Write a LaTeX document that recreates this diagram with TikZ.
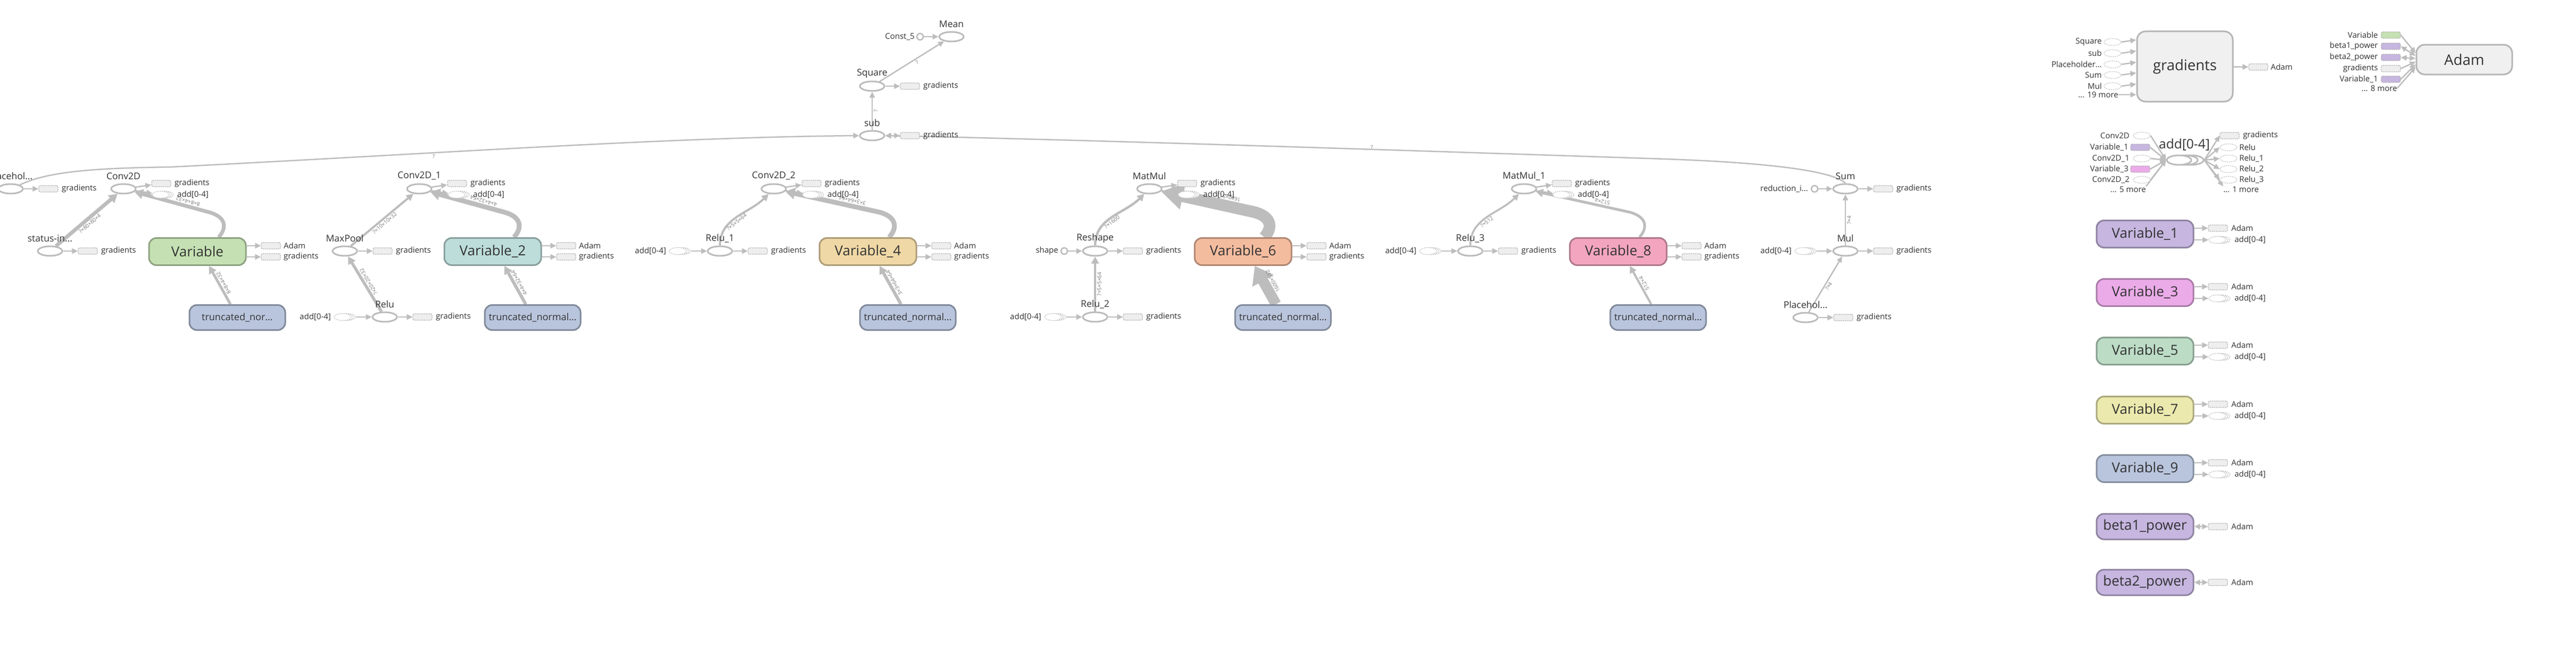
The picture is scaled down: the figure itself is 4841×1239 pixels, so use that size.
\documentclass[tikz,border=0pt]{standalone}
\usepackage{fontspec}
\setmainfont{Open Sans}
\usetikzlibrary{shapes.geometric,arrows.meta,calc}
\pgfdeclarelayer{bg}
\pgfsetlayers{bg,main}
\definecolor{edgec}{HTML}{BDBDBD}
\definecolor{opc}{HTML}{BBBBBB}
\definecolor{gbf}{HTML}{EEEEEE}
\definecolor{gbd}{HTML}{AAAAAA}
\definecolor{serc}{HTML}{C4C4C4}
\definecolor{txt}{HTML}{333333}
\definecolor{elc}{HTML}{7A7A7A}
\definecolor{bigf}{HTML}{F0F0F0}
\definecolor{bigd}{HTML}{B5B5B5}
\definecolor{vaf}{HTML}{C5E1B3}
\definecolor{vbf}{HTML}{BDDDDA}
\definecolor{vcf}{HTML}{F0D8A6}
\definecolor{vdf}{HTML}{F4BC9F}
\definecolor{vef}{HTML}{F3A5BF}
\definecolor{trf}{HTML}{B9C5DD}
\definecolor{vpf}{HTML}{C6B6E0}
\definecolor{vgf}{HTML}{EAABE8}
\definecolor{vhf}{HTML}{BCDCC6}
\definecolor{vif}{HTML}{EBE9AD}
\newcommand\fSm{\fontsize{15}{15}\selectfont}
\newcommand\fOp{\fontsize{17.5}{17.5}\selectfont}
\newcommand\fVar{\fontsize{26}{26}\selectfont}
\newcommand\fTr{\fontsize{18}{18}\selectfont}
\newcommand\fBig{\fontsize{27.5}{27.5}\selectfont}
\newcommand\fSer{\fontsize{24.5}{24.5}\selectfont}
\newcommand\fEd{\fontsize{10}{10}\selectfont}
\tikzset{
 op/.style={ellipse, draw=opc, line width=3pt, fill=white, minimum width=46pt, minimum height=18pt, inner sep=0pt},
 cst/.style={circle, draw=opc, line width=2.5pt, fill=white, minimum size=12pt, inner sep=0pt},
 gb/.style={rectangle, rounded corners=3pt, draw=gbd, fill=gbf, line width=1.3pt, dash pattern=on 2pt off 1.5pt, minimum width=36pt, minimum height=12pt, inner sep=0pt},
 ser/.style={ellipse, draw=serc, line width=1.3pt, dash pattern=on 2pt off 1.5pt, fill=white, minimum width=32pt, minimum height=13pt, inner sep=0pt},
 lab/.style={font=\fSm, text=txt, inner sep=0pt},
 oplab/.style={font=\fOp, text=txt, inner sep=0pt},
 varbox/.style={rectangle, rounded corners=14pt, line width=3pt, minimum width=182pt, minimum height=51pt, font=\fVar, text=txt, inner sep=0pt},
 tbox/.style={varbox, fill=trf, draw=trf!70!black, minimum width=180pt, minimum height=47pt, font=\fTr},
 bigbox/.style={rectangle, rounded corners=16pt, draw=bigd, fill=bigf, line width=3pt, minimum width=180pt, font=\fBig, text=txt, inner sep=0pt},
 ed/.style={draw=edgec, line width=2.5pt, -{Triangle[length=11pt,width=10pt]}},
 edb/.style={draw=edgec, line width=2.5pt, {Triangle[length=11pt,width=10pt]}-{Triangle[length=11pt,width=10pt]}},
 elab/.style={font=\fEd, text=elc, inner sep=2pt},
}
\newcommand\opnode[4]{%
 \node[op] (#1) at (#2,#3) {};
 \node[oplab] (#1-l) at (#2,#3-24) {#4};}
\newcommand\gout[1]{%
 \node[gb] (#1-g) at ($(#1)+(71,0)$) {};
 \node[lab,anchor=west] (#1-gt) at ($(#1)+(96,0)$) {gradients};}
\newcommand\sernode[4]{%
 \node[ser] (#1-b2) at ($(#2)+(#3+8,#4)$) {};
 \node[ser] (#1-b1) at ($(#2)+(#3+4,#4)$) {};
 \node[ser] (#1) at ($(#2)+(#3,#4)$) {};}
\newcommand\topout[1]{%
 \node[gb] (#1-g) at ($(#1)+(71,-10)$) {};
 \node[lab,anchor=west] (#1-gt) at ($(#1)+(96,-10)$) {gradients};
 \sernode{#1-a}{#1}{70}{11}
 \node[lab,anchor=west] (#1-at) at ($(#1)+(101,11)$) {add[0-4]};}
\newcommand\addin[1]{%
 \sernode{#1-a}{#1}{-79}{0}
 \node[lab,anchor=east] (#1-at) at ($(#1)+(-101,0)$) {add[0-4]};}
\newcommand\varout[1]{%
 \node[gb] (#1-ad) at ($(#1)+(138,-11)$) {};
 \node[lab,anchor=west] (#1-adt) at ($(#1)+(162,-11)$) {Adam};
 \node[gb] (#1-gr) at ($(#1)+(138,10)$) {};
 \node[lab,anchor=west] (#1-grt) at ($(#1)+(162,10)$) {gradients};}
\newcommand\colvar[4]{%
 \node[varbox, fill=#4, draw=#4!72!black] (#1) at (4031,#2) {#3};
 \node[gb] (#1-ad) at ($(#1)+(137,-11)$) {};
 \node[lab,anchor=west] (#1-adt) at ($(#1)+(162,-11)$) {Adam};
 \sernode{#1-a}{#1}{136}{11}
 \node[lab,anchor=west] (#1-at) at ($(#1)+(168,11)$) {add[0-4]};}
\newcommand\varedge[5]{%
 \draw[draw=edgec, line width=#3, -{Triangle[#4]}] ($(#1.north)+(40,0)$) .. controls ($(#1.north)+(56,-18)$) and ($(#1.north)+(54,-38)$) .. ($(#1.north)+(22,-47)$) -- node[elab, sloped, allow upside down, below, pos=.3] {#5} (#2);}
\newcommand\truncedge[5]{%
 \draw[draw=edgec, line width=#3, -{Triangle[#4]}] ($(#1.north)+(-13,0)$) -- node[elab, sloped, allow upside down, below, pos=.5] {#5} ($(#2.south)+(22,0)$);}
\begin{document}
\begin{tikzpicture}[x=1pt,y=-1pt]
\useasboundingbox (0,0) rectangle (4841,1239);
\begin{pgfonlayer}{bg}\fill[white] (0,0) rectangle (4841,1239);\end{pgfonlayer}
% ---------- top chain
\opnode{mean}{1788}{69}{Mean}
\node[cst] (c5) at (1729,69) {};
\node[lab,anchor=east] (c5-t) at (1719,69) {Const\_5};
\opnode{square}{1639}{162}{Square}
\gout{square}
\opnode{sub}{1639}{255}{sub}
\gout{sub}
% ---------- row 1
\opnode{ph}{20}{355}{Placehol...}
\gout{ph}
\opnode{cva}{232}{355}{Conv2D}
\topout{cva}
\opnode{cvb}{788}{355}{Conv2D\_1}
\topout{cvb}
\opnode{cvc}{1454}{355}{Conv2D\_2}
\topout{cvc}
\opnode{mma}{2160}{355}{MatMul}
\topout{mma}
\opnode{mmb}{2864}{355}{MatMul\_1}
\topout{mmb}
\opnode{sum}{3468}{355}{Sum}
\gout{sum}
\node[cst] (red) at (3410,355) {};
\node[lab,anchor=east] (red-t) at (3398,355) {reduction\_i...};
% ---------- row 2
\opnode{st}{94}{472}{status-in...}
\gout{st}
\node[varbox, fill=vaf, draw=vaf!72!black] (var0) at (371,473) {Variable};
\varout{var0}
\opnode{mp}{648}{472}{MaxPool}
\gout{mp}
\node[varbox, fill=vbf, draw=vbf!72!black] (var2) at (926,473) {Variable\_2};
\varout{var2}
\opnode{rla}{1353}{472}{Relu\_1}
\gout{rla}
\addin{rla}
\node[varbox, fill=vcf, draw=vcf!72!black] (var4) at (1631,473) {Variable\_4};
\varout{var4}
\opnode{rs}{2058}{472}{Reshape}
\gout{rs}
\node[cst] (shp) at (2000,472) {};
\node[lab,anchor=east] (shp-t) at (1989,472) {shape};
\node[varbox, fill=vdf, draw=vdf!72!black] (var6) at (2336,473) {Variable\_6};
\varout{var6}
\opnode{rlc}{2763}{472}{Relu\_3}
\gout{rlc}
\addin{rlc}
\node[varbox, fill=vef, draw=vef!72!black] (var8) at (3041,473) {Variable\_8};
\varout{var8}
\opnode{mul}{3468}{472}{Mul}
\gout{mul}
\addin{mul}
% ---------- row 3
\node[tbox] (tr0) at (446,597) {truncated\_nor...};
\opnode{rl}{723}{596}{Relu}
\gout{rl}
\addin{rl}
\node[tbox] (tr2) at (1001,597) {truncated\_normal...};
\node[tbox] (tr4) at (1706,597) {truncated\_normal...};
\opnode{rlb}{2058}{596}{Relu\_2}
\gout{rlb}
\addin{rlb}
\node[tbox] (tr6) at (2411,597) {truncated\_normal...};
\node[tbox] (tr8) at (3116,597) {truncated\_normal...};
\opnode{phb}{3393}{597}{Placehol...}
\gout{phb}
% ---------- gradients cluster
\node[bigbox, minimum height=132pt] (grad) at (4106,125) {gradients};
\node[ser] (gi1) at (3970,79) {};  \node[lab,anchor=east] (gi1-t) at (3950,79) {Square};
\node[ser] (gi2) at (3970,100) {}; \node[lab,anchor=east] (gi2-t) at (3950,100) {sub};
\node[ser] (gi3) at (3970,121) {}; \node[lab,anchor=east] (gi3-t) at (3950,121) {Placeholder...};
\node[ser] (gi4) at (3970,141) {}; \node[lab,anchor=east] (gi4-t) at (3950,141) {Sum};
\node[ser] (gi5) at (3970,162) {}; \node[lab,anchor=east] (gi5-t) at (3950,162) {Mul};
\node[lab,anchor=east] (gi6) at (3981,178) {... 19 more};
\node[gb] (grad-o) at (4244,126) {};
\node[lab,anchor=west] (grad-ot) at (4267,126) {Adam};
% ---------- Adam cluster
\node[bigbox, minimum height=56pt] (adam) at (4631,112) {Adam};
\node[gb, fill=vaf] (ai1) at (4493,66) {};  \node[lab,anchor=east] (ai1-t) at (4469,66) {Variable};
\node[gb, fill=vpf] (ai2) at (4493,87) {};  \node[lab,anchor=east] (ai2-t) at (4469,87) {beta1\_power};
\node[gb, fill=vpf] (ai3) at (4493,108) {}; \node[lab,anchor=east] (ai3-t) at (4469,108) {beta2\_power};
\node[gb] (ai4) at (4493,129) {};           \node[lab,anchor=east] (ai4-t) at (4469,129) {gradients};
\node[gb, fill=vpf] (ai5) at (4493,149) {}; \node[lab,anchor=east] (ai5-t) at (4469,149) {Variable\_1};
\node[lab,anchor=east] (ai6) at (4505,166) {... 8 more};
% ---------- add cluster
\node[op] (addk2) at (4118,301) {};
\node[op] (addk1) at (4107,301) {};
\node[op] (addk) at (4095,301) {};
\node[font=\fSer, text=txt, inner sep=0pt] (addk-l) at (4105,272) {add[0-4]};
\node[ser] (ki1) at (4025,255) {};          \node[lab,anchor=east] (ki1-t) at (4002,255) {Conv2D};
\node[gb, fill=vpf] (ki2) at (4022,277) {}; \node[lab,anchor=east] (ki2-t) at (4000,277) {Variable\_1};
\node[ser] (ki3) at (4025,298) {};          \node[lab,anchor=east] (ki3-t) at (4002,298) {Conv2D\_1};
\node[gb, fill=vgf] (ki4) at (4022,318) {}; \node[lab,anchor=east] (ki4-t) at (4000,318) {Variable\_3};
\node[ser] (ki5) at (4025,338) {};          \node[lab,anchor=east] (ki5-t) at (4002,338) {Conv2D\_2};
\node[lab,anchor=east] (ki6) at (4033,356) {... 5 more};
\node[gb] (ko1) at (4190,255) {};  \node[lab,anchor=west] (ko1-t) at (4215,255) {gradients};
\node[ser] (ko2) at (4188,277) {}; \node[lab,anchor=west] (ko2-t) at (4208,277) {Relu};
\node[ser] (ko3) at (4188,298) {}; \node[lab,anchor=west] (ko3-t) at (4208,298) {Relu\_1};
\node[ser] (ko4) at (4188,318) {}; \node[lab,anchor=west] (ko4-t) at (4208,318) {Relu\_2};
\node[ser] (ko5) at (4188,338) {}; \node[lab,anchor=west] (ko5-t) at (4208,338) {Relu\_3};
\node[lab,anchor=west] (ko6) at (4178,356) {... 1 more};
% ---------- variables column
\colvar{va1}{440}{Variable\_1}{vpf}
\colvar{va3}{550}{Variable\_3}{vgf}
\colvar{va5}{660}{Variable\_5}{vhf}
\colvar{va7}{771}{Variable\_7}{vif}
\colvar{va9}{881}{Variable\_9}{trf}
\node[varbox, fill=vpf, draw=vpf!72!black, minimum height=48pt] (b1) at (4031,990) {beta1\_power};
\node[gb] (b1-ad) at (4168,990) {};
\node[lab,anchor=west] (b1-adt) at (4193,990) {Adam};
\node[varbox, fill=vpf, draw=vpf!72!black, minimum height=48pt] (b2) at (4031,1095) {beta2\_power};
\node[gb] (b2-ad) at (4168,1095) {};
\node[lab,anchor=west] (b2-adt) at (4193,1095) {Adam};
% ================= edges
\begin{pgfonlayer}{bg}
\draw[ed] (c5) -- (mean);
\draw[ed] (square) -- node[elab,sloped,below,pos=.55]{?} (mean);
\draw[ed] (square) -- (square-g);
\draw[ed] (sub) -- node[elab,sloped,below,pos=.5,allow upside down]{?} (square);
\draw[edb] (sub) -- (sub-g);
\draw[ed] (ph.north east) .. controls (90,322) and (180,316) .. (320,314) .. controls (800,290) and (1250,258) .. (sub.west);
\node[elab] (q1) at (815,294) {?};
\draw[ed] (sum.north) .. controls (3445,322) and (3330,305) .. (3100,298) .. controls (2500,278) and (2000,262) .. (sub.east);
\node[elab] (q2) at (2578,277) {?};
\foreach \n in {ph,sum,st,mp,rla,rs,rlc,mul,rl,rlb,phb} {\draw[ed] (\n) -- (\n-g);}
\foreach \n in {cva,cvb,cvc,mma,mmb} {\draw[ed] (\n) -- (\n-g); \draw[ed] (\n) -- (\n-a);}
\foreach \n in {rla,rlc,mul,rl,rlb} {\draw[ed] (\n-a-b2.east) -- (\n);}
\draw[ed] (red) -- (sum);
\draw[ed] (shp) -- (rs);
\foreach \n in {var0,var2,var4,var6,var8} {\draw[ed] (\n.east |- \n-ad) -- (\n-ad); \draw[ed] (\n.east |- \n-gr) -- (\n-gr);}
% thick data edges
\draw[draw=edgec, line width=7pt, -{Triangle[length=16pt,width=18pt]}] (st) -- node[elab,sloped,below,pos=.5]{?×80×80×4} (cva);
\varedge{var0}{cva}{7pt}{length=16pt,width=18pt}{8×8×4×32}
\truncedge{tr0}{var0}{5pt}{length=14pt,width=15pt}{8×8×4×32}
\draw[draw=edgec, line width=4pt, -{Triangle[length=13pt,width=13pt]}] (mp) -- node[elab,sloped,below,pos=.5]{?×10×10×32} (cvb);
\draw[draw=edgec, line width=5.5pt, -{Triangle[length=14pt,width=15pt]}] (rl) -- node[elab,sloped,allow upside down,below,pos=.5]{?×20×20×32} (mp);
\varedge{var2}{cvb}{9pt}{length=18pt,width=21pt}{4×4×32×64}
\truncedge{tr2}{var2}{6pt}{length=15pt,width=16pt}{4×4×32×64}
\draw[draw=edgec, line width=4pt, -{Triangle[length=13pt,width=13pt]}] (rla.north) to[out=90,in=225] node[elab,sloped,below,pos=.45]{?×5×5×64} (cvc);
\varedge{var4}{cvc}{9pt}{length=18pt,width=21pt}{3×3×64×64}
\truncedge{tr4}{var4}{6pt}{length=15pt,width=16pt}{3×3×64×64}
\draw[draw=edgec, line width=4.5pt, -{Triangle[length=13pt,width=14pt]}] (rs.north) to[out=90,in=225] node[elab,sloped,below,pos=.45]{?×1600} (mma);
\draw[draw=edgec, line width=4.5pt, -{Triangle[length=13pt,width=14pt]}] (rlb) -- node[elab,sloped,allow upside down,below,pos=.5]{?×5×5×64} (rs);
\varedge{var6}{mma}{22pt}{length=42pt,width=48pt}{1600×512}
\truncedge{tr6}{var6}{20pt}{length=32pt,width=44pt}{1600×512}
\draw[draw=edgec, line width=3.5pt, -{Triangle[length=12pt,width=12pt]}] (rlc.north) to[out=90,in=225] node[elab,sloped,below,pos=.45]{?×512} (mmb);
\varedge{var8}{mmb}{5pt}{length=14pt,width=15pt}{512×4}
\truncedge{tr8}{var8}{4pt}{length=13pt,width=13pt}{512×4}
\draw[ed] (mul) -- node[elab,sloped,allow upside down,below,pos=.5]{?×4} (sum);
\draw[ed] (phb) -- node[elab,sloped,below,pos=.5]{?×4} (mul);
% gradients cluster
\foreach \i in {1,...,5} {\draw[ed] (gi\i.east) -- ($(gi\i -| grad.west)+(0,-4)$);}
\draw[ed] (gi6.east) -- (gi6 -| grad.west);
\draw[ed] (grad) -- (grad-o);
% Adam cluster
\draw[ed] (ai1.east) -- ($(adam.west)+(0,-12)$);
\draw[edb] (ai2.east) -- ($(adam.west)+(0,-7)$);
\draw[edb] (ai3.east) -- ($(adam.west)+(0,-2)$);
\draw[ed] (ai4.east) -- ($(adam.west)+(0,4)$);
\draw[ed] (ai5.east) -- ($(adam.west)+(0,9)$);
\draw[ed] (ai6.east) -- ($(adam.west)+(0,14)$);
% add cluster
\foreach \i in {1,...,5} {\draw[ed] (ki\i.east) -- (addk.west);}
\draw[ed] (ki6.north east) -- (addk.west);
\foreach \i in {1,...,5} {\draw[ed] (addk2.east) -- (ko\i.west);}
\draw[ed] (addk2.east) -- (ko6.north west);
% column
\foreach \n in {va1,va3,va5,va7,va9} {\draw[ed] (\n.east |- \n-ad) -- (\n-ad); \draw[ed] (\n.east |- \n-a) -- (\n-a);}
\draw[edb] (b1) -- (b1-ad);
\draw[edb] (b2) -- (b2-ad);
\end{pgfonlayer}
\end{tikzpicture}
\end{document}
